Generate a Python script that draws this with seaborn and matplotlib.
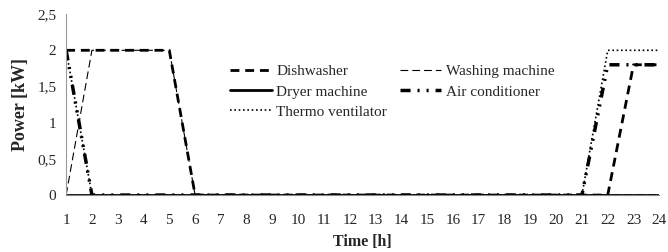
import numpy as np
import pandas as pd
import seaborn as sns
import matplotlib.pyplot as plt
from matplotlib.ticker import FuncFormatter

hours = list(range(1, 25))
dishwasher = [2, 2, 2, 2, 2] + [0] * 17 + [1.8, 1.8]
washing = [0, 2, 2, 2, 2] + [0] * 19
dryer = [0] * 24
air_cond = [2] + [0] * 20 + [1.8, 1.8, 1.8]
thermo = [2] + [0] * 20 + [2, 2, 2]

sns.set_style("white")
plt.rcParams['font.family'] = ['Liberation Serif', 'DejaVu Serif']

fig = plt.figure(figsize=(6.68, 2.52), dpi=100)
ax = fig.add_axes([0.099, 0.226, 0.888, 0.718])

# name, values, linewidth, dash pattern (in linewidth units)
series = [
    ("Dishwasher", dishwasher, 2.0, (3.2, 2.1)),
    ("Dryer machine", dryer, 2.0, ""),
    ("Thermo ventilator", thermo, 1.2, (1, 1.6)),
    ("Washing machine", washing, 0.8, (7, 3.6)),
    ("Air conditioner", air_cond, 2.5, (2.9, 2, 0.6, 2, 0.6, 2)),
]
for name, vals, lw, dash in series:
    df = pd.DataFrame({"Time": hours, "Power": vals})
    sns.lineplot(data=df, x="Time", y="Power", ax=ax, color="black",
                 linewidth=lw, label=name)
    l = ax.get_lines()[-1]
    if dash:
        l.set_dashes(dash)

ax.set_xlim(1, 24)
ax.set_ylim(0, 2.5)
ax.set_xticks(hours)
ax.set_yticks([0, 0.5, 1, 1.5, 2, 2.5])
ax.yaxis.set_major_formatter(FuncFormatter(lambda v, p: ("%g" % v).replace(".", ",")))
ax.tick_params(axis="x", direction="out", length=3, width=0.8, color="#888888",
               labelsize=11, pad=11)
ax.tick_params(axis="y", direction="out", length=0, labelsize=11, pad=7)
for s in ["top", "right"]:
    ax.spines[s].set_visible(False)
ax.spines["left"].set_color("#999999")
ax.spines["bottom"].set_color("#888888")
ax.set_xlabel("Time [h]", fontsize=11.5, fontweight="bold", labelpad=5)
ax.set_ylabel("Power [kW]", fontsize=13, fontweight="bold", labelpad=6)

ax.legend(loc="upper left", bbox_to_anchor=(0.277, 0.72), ncol=2, frameon=False,
          fontsize=11, handlelength=2.7, handletextpad=0.3, columnspacing=0.85,
          labelspacing=0.42, borderaxespad=0, borderpad=0)

fig.savefig("out.png", dpi=100)
